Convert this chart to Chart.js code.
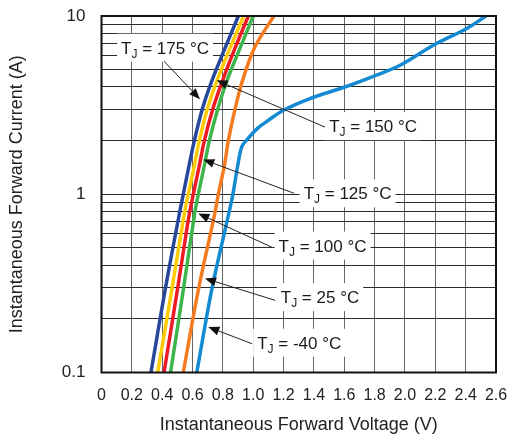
<!DOCTYPE html>
<html>
<head>
<meta charset="utf-8">
<script src="https://cdn.jsdelivr.net/npm/chart.js@4.4.1/dist/chart.umd.min.js"></script>
<style>
  body { margin: 0; background: #fff; }
  #wrap { width: 514px; height: 437px; }
</style>
</head>
<body>
<div id="wrap"><canvas id="chart" width="514" height="437"></canvas></div>
<script>
/* forward characteristic, I (A) vs V (V) */

// x ticks (V) and y grid (A)
var xMin = 0, xMax = 2.6, xStep = 0.2;
var yGrid = [0.1, 0.2, 0.3, 0.4, 0.5, 0.6, 0.7, 0.8, 0.9, 1, 2, 3, 4, 5, 6, 7, 8, 9, 10];
var yLabels = [0.1, 1, 10];

var seriesNames = ["175", "150", "125", "100", "25", "-40"];

// hot curves share the same current points
var iHot = [0.1, 0.29, 0.76, 1.0, 1.45, 2.0, 3.0, 4.3, 6.6, 10];
var v175 = [0.326, 0.419, 0.511, 0.539, 0.577, 0.612, 0.664, 0.726, 0.814, 0.902];
var v150 = [0.370, 0.463, 0.544, 0.572, 0.612, 0.645, 0.697, 0.759, 0.847, 0.937];
var v125 = [0.412, 0.500, 0.577, 0.605, 0.645, 0.678, 0.733, 0.796, 0.880, 0.968];
var v100 = [0.455, 0.539, 0.612, 0.638, 0.678, 0.711, 0.766, 0.825, 0.913, 1.000];
var v25  = [0.539, 0.638, 0.744, 0.770, 0.810, 0.836, 0.880, 0.928, 1.007, 1.136];

// -40 °C has its own points (knee near 1.8 A)
var iCold = [0.1, 0.29, 0.76, 1.0, 1.45, 1.85, 2.05, 2.35, 2.6, 2.96, 3.44, 3.97, 4.59, 5.29, 6.85, 8.51, 10];
var vCold = [0.628, 0.726, 0.836, 0.866, 0.898, 0.925, 0.965, 1.03, 1.1, 1.2, 1.374, 1.594, 1.792, 1.968, 2.187, 2.407, 2.535];

var colors = ["#27479b", "#ffcb05", "#ed1c24", "#3db54a", "#f47b20", "#148ad2"];

// callouts: label centre, arrow start, arrow tip (all in V / A)
var calloutTemps = ["175", "150", "125", "100", "25", "-40"];
var calloutLabel = [[0.419, 6.64], [1.790, 2.41], [1.622, 1.013], [1.457, 0.515], [1.440, 0.265], [1.303, 0.1468]];
var calloutFrom  = [[0.412, 5.58], [1.473, 2.38], [1.269, 1.013], [1.124, 0.504], [1.144, 0.254], [0.992, 0.145]];
var calloutTip   = [[0.649, 3.41], [0.759, 4.36], [0.671, 1.566], [0.638, 0.779], [0.682, 0.337], [0.704, 0.180]];

function pts(vs, is) {
    var out = [];
    for (var i = 0; i < vs.length; i++) out.push({ x: vs[i], y: is[i] });
    return out;
}

var curves = [pts(v175, iHot), pts(v150, iHot), pts(v125, iHot), pts(v100, iHot), pts(v25, iHot), pts(vCold, iCold)];

var datasets = [];
for (var k = 0; k < curves.length; k++) {
    datasets.push({
        label: seriesNames[k],
        data: curves[k],
        borderColor: colors[k],
        borderWidth: 3.5,
        pointRadius: 0,
        tension: 0.35,
        fill: false
    });
}

var FONT = "'Liberation Sans', Arial, Helvetica, sans-serif";
Chart.defaults.font.family = FONT;
Chart.defaults.color = "#222";

function drawArrow(ctx, x1, y1, x2, y2) {
    var ang = Math.atan2(y2 - y1, x2 - x1);
    var len = 11, half = 4.5;
    var bx = x2 - len * Math.cos(ang), by = y2 - len * Math.sin(ang);
    ctx.beginPath();
    ctx.moveTo(x1, y1);
    ctx.lineTo(bx, by);
    ctx.strokeStyle = "#222";
    ctx.lineWidth = 1;
    ctx.stroke();
    ctx.beginPath();
    ctx.moveTo(x2, y2);
    ctx.lineTo(bx - half * Math.sin(ang), by + half * Math.cos(ang));
    ctx.lineTo(bx + half * Math.sin(ang), by - half * Math.cos(ang));
    ctx.closePath();
    ctx.fillStyle = "#111";
    ctx.fill();
}

var calloutPlugin = {
    id: "callouts",
    afterDatasetsDraw: function(chart) {
        var ctx = chart.ctx, xs = chart.scales.x, ys = chart.scales.y;
        ctx.save();
        for (var i = 0; i < calloutTemps.length; i++) {
            var cx = xs.getPixelForValue(calloutLabel[i][0]);
            var cy = ys.getPixelForValue(calloutLabel[i][1]);
            var big = "17px " + FONT, small = "12px " + FONT;
            var rest = " = " + calloutTemps[i] + " \u00B0C";
            ctx.font = big;
            var wT = ctx.measureText("T").width;
            var wR = ctx.measureText(rest).width;
            ctx.font = small;
            var wJ = ctx.measureText("J").width;
            var w = wT + wJ + wR;
            var left = cx - w / 2;

            ctx.fillStyle = "#fff";
            ctx.fillRect(left - 4, cy - 14, w + 8, 28);

            ctx.fillStyle = "#1a1a1a";
            ctx.textBaseline = "alphabetic";
            ctx.textAlign = "left";
            ctx.font = big;
            ctx.fillText("T", left, cy + 6);
            ctx.font = small;
            ctx.fillText("J", left + wT, cy + 10);
            ctx.font = big;
            ctx.fillText(rest, left + wT + wJ, cy + 6);

            drawArrow(ctx,
                xs.getPixelForValue(calloutFrom[i][0]), ys.getPixelForValue(calloutFrom[i][1]),
                xs.getPixelForValue(calloutTip[i][0]), ys.getPixelForValue(calloutTip[i][1]));
        }
        // frame
        var a = chart.chartArea;
        ctx.strokeStyle = "#111";
        ctx.lineWidth = 2;
        ctx.strokeRect(a.left, a.top, a.right - a.left, a.bottom - a.top);
        ctx.restore();
    }
};

var ctx = document.getElementById("chart").getContext("2d");
window.theChart = new Chart(ctx, {
    type: "line",
    data: { datasets: datasets },
    plugins: [calloutPlugin],
    options: {
        responsive: false,
        animation: false,
        layout: { padding: { top: 16, right: 18, left: 0, bottom: 0 } },
        plugins: { legend: { display: false }, tooltip: { enabled: false } },
        scales: {
            x: {
                type: "linear",
                min: xMin,
                max: xMax,
                afterFit: function(s) {
                    s.height = 64.5;
                    s.paddingLeft = 0;
                    s.paddingRight = 0;
                },
                ticks: {
                    stepSize: xStep,
                    autoSkip: false,
                    maxRotation: 0,
                    padding: 13,
                    font: { size: 16 },
                    color: "#222",
                    callback: function(v) { return v === 0 ? "0" : Number(v).toFixed(1); }
                },
                grid: { color: "#666", lineWidth: 1, drawTicks: false },
                border: { display: false },
                title: {
                    display: true,
                    text: "Instantaneous Forward Voltage (V)",
                    font: { size: 18 },
                    color: "#222",
                    padding: { top: 0, bottom: 1 }
                }
            },
            y: {
                type: "logarithmic",
                min: 0.1,
                max: 10,
                afterFit: function(s) {
                    s.width = 101.5;
                    s.paddingTop = 0;
                    s.paddingBottom = 0;
                },
                afterBuildTicks: function(s) {
                    s.ticks = yGrid.map(function(v) { return { value: v }; });
                },
                ticks: {
                    autoSkip: false,
                    padding: 16,
                    font: { size: 17 },
                    color: "#222",
                    callback: function(v) {
                        for (var i = 0; i < yLabels.length; i++) {
                            if (Math.abs(v - yLabels[i]) < 1e-9) return String(yLabels[i]);
                        }
                        return "";
                    }
                },
                grid: { color: "#2a2a2a", lineWidth: 1, drawTicks: false },
                border: { display: false },
                title: {
                    display: true,
                    text: "Instantaneous Forward Current (A)",
                    font: { size: 18 },
                    color: "#222",
                    padding: { top: 6, bottom: 0 }
                }
            }
        }
    }
});
</script>
</body>
</html>
